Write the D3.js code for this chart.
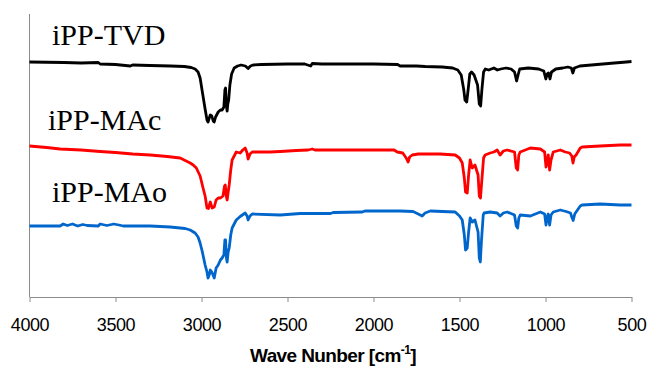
<!DOCTYPE html>
<html>
<head>
<meta charset="utf-8">
<script src="https://cdn.jsdelivr.net/npm/d3@7"></script>
<style>
  body { margin: 0; background: #fff; }
  svg { display: block; }
</style>
</head>
<body>
<svg id="chart" width="648" height="367"></svg>
<script>
// tick labels of the wave number axis
var xTicks = [4000, 3500, 3000, 2500, 2000, 1500, 1000, 500]

var seriesNames = ["iPP-TVD", "iPP-MAc", "iPP-MAo"]

// [wave number, transmittance (a.u., offset)]
var tvd = [
  [4000,47.0],[3800,46.9],[3700,46.8],[3600,46.9],[3589,46.6],[3500,46.5],[3414,46.2],[3400,46.4],
  [3300,46.3],[3180,46.2],[3100,46.1],[3060,45.9],[3037,45.6],[3020,45.0],[3008,43.8],[2995,41.0],
  [2980,37.8],[2968,35.4],[2962,35.0],[2955,35.8],[2949,36.4],[2940,36.2],[2932,35.2],[2926,35.0],
  [2918,36.0],[2903,37.0],[2890,37.4],[2880,37.4],[2870,38.0],[2864,41.4],[2860,41.8],[2856,38.4],
  [2851,37.2],[2847,38.6],[2842,39.4],[2835,42.4],[2825,44.6],[2810,45.8],[2790,46.2],[2770,46.4],
  [2745,46.2],[2729,45.7],[2715,46.2],[2700,46.4],[2650,46.5],[2500,46.6],[2400,46.6],[2365,46.2],
  [2356,46.7],[2300,46.6],[2000,46.6],[1860,46.5],[1845,46.2],[1750,46.2],[1700,46.1],[1600,46.0],
  [1540,45.8],[1510,45.4],[1490,44.4],[1475,41.4],[1468,39.4],[1458,39.0],[1450,41.4],[1440,44.6],
  [1430,45.0],[1415,44.4],[1395,42.4],[1385,38.6],[1377,38.2],[1370,41.4],[1360,45.0],[1350,45.6],
  [1330,45.4],[1300,45.8],[1280,45.4],[1260,45.6],[1230,45.8],[1200,45.6],[1180,45.0],[1168,43.2],
  [1158,44.6],[1150,45.6],[1100,45.8],[1040,45.6],[1010,45.2],[998,43.6],[990,44.6],[982,44.8],
  [974,43.6],[965,45.0],[940,45.6],[900,45.8],[870,46.0],[850,45.8],[841,44.8],[832,45.8],
  [800,46.2],[700,46.5],[600,46.8],[530,47.0],[500,47.1]
]

var mac = [
  [4000,30.2],[3900,29.9],[3822,29.6],[3700,29.4],[3589,29.1],[3500,28.9],[3400,28.6],[3298,28.4],
  [3200,28.1],[3124,27.8],[3066,26.8],[3048,26.4],[3030,25.8],[3008,24.2],[2991,21.8],[2979,20.2],
  [2968,17.8],[2960,17.7],[2949,19.0],[2938,17.8],[2926,18.0],[2915,19.4],[2903,19.8],[2890,19.8],
  [2875,20.2],[2866,22.2],[2862,22.4],[2856,20.2],[2851,19.4],[2845,21.0],[2839,22.4],[2830,25.4],
  [2822,27.4],[2798,29.0],[2775,28.8],[2760,29.4],[2746,29.8],[2735,28.8],[2729,27.6],[2718,28.6],
  [2705,29.0],[2600,29.0],[2542,29.1],[2450,29.3],[2380,29.4],[2356,29.6],[2340,29.4],[2000,29.4],
  [1880,29.4],[1862,29.0],[1830,28.8],[1810,27.8],[1799,27.0],[1790,28.0],[1775,28.4],[1740,28.6],
  [1612,28.6],[1525,28.4],[1500,27.8],[1484,26.8],[1472,23.8],[1465,21.0],[1455,20.8],[1447,24.4],
  [1438,27.4],[1426,25.8],[1410,26.4],[1392,24.4],[1385,20.2],[1378,19.8],[1370,23.4],[1360,27.8],
  [1351,28.4],[1322,28.8],[1300,29.0],[1281,29.4],[1264,28.4],[1245,29.2],[1223,29.4],[1180,29.0],
  [1170,25.8],[1162,25.4],[1155,28.4],[1147,29.0],[1088,29.8],[1030,29.6],[1005,29.0],[997,26.0],
  [991,27.0],[984,28.4],[976,25.4],[968,27.4],[955,29.0],[914,29.4],[885,29.0],[860,28.8],
  [847,28.2],[840,26.8],[833,28.0],[822,28.4],[798,29.8],[787,30.0],[682,30.2],[566,30.4],[500,30.4]
]

var mao = [
  [4000,14.2],[3822,14.2],[3804,14.6],[3780,14.3],[3750,14.6],[3720,14.2],[3690,14.5],[3664,14.3],
  [3600,14.2],[3589,14.6],[3550,14.3],[3510,14.6],[3480,14.4],[3455,14.2],[3298,14.2],[3182,14.0],
  [3095,13.7],[3066,13.4],[3037,12.8],[3020,12.0],[3008,10.8],[2995,9.0],[2979,6.4],[2968,5.0],
  [2962,3.8],[2955,4.4],[2949,5.4],[2940,5.0],[2926,3.8],[2915,5.8],[2903,6.4],[2890,7.4],
  [2880,7.8],[2870,8.4],[2864,11.4],[2860,11.4],[2855,7.8],[2851,7.0],[2845,9.0],[2839,9.8],
  [2830,12.4],[2822,13.8],[2798,15.4],[2775,16.1],[2746,16.8],[2735,16.2],[2729,15.4],[2718,16.2],
  [2705,16.6],[2542,16.4],[2426,16.7],[2250,16.7],[2235,16.9],[2065,17.0],[2050,17.2],[1845,17.2],
  [1770,17.1],[1740,16.6],[1717,16.2],[1700,16.8],[1670,17.2],[1525,17.0],[1500,16.2],[1484,15.4],
  [1472,12.4],[1465,9.4],[1455,9.8],[1447,13.0],[1438,15.8],[1426,15.0],[1410,15.4],[1392,13.0],
  [1385,7.8],[1379,7.0],[1372,11.4],[1362,16.4],[1357,16.8],[1322,17.0],[1281,16.8],[1264,16.2],
  [1245,16.8],[1223,17.0],[1180,16.4],[1170,14.2],[1162,13.8],[1155,15.8],[1147,16.4],[1088,16.2],
  [1030,17.0],[1005,16.6],[997,14.4],[991,15.8],[984,16.6],[976,14.4],[968,16.4],[955,17.0],
  [914,17.4],[880,17.1],[855,16.8],[845,15.8],[839,15.3],[830,16.6],[822,17.0],[798,18.2],
  [787,18.4],[682,18.6],[566,18.4],[500,18.4]
]

var allSeries = [tvd, mac, mao]
var colors = ["#000000", "#ff0000", "#0066cc"]

var svg = d3.select("#chart")

const plotLeft = 29.5, plotRight = 631.5, plotTop = 14, plotBottom = 297

var x = d3.scaleLinear().domain([4000, 500]).range([plotLeft, plotRight])
var y = d3.scaleLinear().domain([0, 56.6]).range([plotBottom, plotTop])

// left axis line (no ticks)
svg.append("line")
    .attr("x1", plotLeft).attr("x2", plotLeft)
    .attr("y1", plotTop).attr("y2", plotBottom)
    .attr("stroke", "#8c8c8c")
    .attr("stroke-width", 1)

// bottom axis
var xAxis = svg.append("g")
    .attr("transform", `translate(0, ${plotBottom})`)
    .call(d3.axisBottom(x).tickValues(xTicks).tickFormat(d3.format("d"))
        .tickSize(5).tickPadding(16).tickSizeOuter(0))

xAxis.select(".domain").attr("stroke", "#8c8c8c")
xAxis.selectAll(".tick line").attr("stroke", "#8c8c8c")
xAxis.selectAll(".tick text")
    .attr("fill", "#000")
    .style("font-family", "'Liberation Sans', Arial, sans-serif")
    .style("font-size", "18px")
    .style("letter-spacing", "-0.4px")

var line = d3.line()
    .x(d => x(d[0]))
    .y(d => y(d[1]))

svg.selectAll(".spectrum")
    .data(allSeries)
    .enter()
    .append("path")
    .attr("class", "spectrum")
    .attr("d", line)
    .attr("fill", "none")
    .attr("stroke", (d, i) => colors[i])
    .attr("stroke-width", 2.8)
    .attr("stroke-linejoin", "round")

// series labels
var labelPos = [[52, 45], [48, 130], [52, 202]]
svg.selectAll(".label")
    .data(seriesNames)
    .enter()
    .append("text")
    .attr("class", "label")
    .attr("x", (d, i) => labelPos[i][0])
    .attr("y", (d, i) => labelPos[i][1])
    .style("font-family", "'Liberation Serif', 'Times New Roman', serif")
    .style("font-size", "30px")
    .text(d => d)

// axis title
var title = svg.append("text")
    .attr("x", 333)
    .attr("y", 362)
    .attr("text-anchor", "middle")
    .style("font-family", "'Liberation Sans', Arial, sans-serif")
    .style("font-size", "19px")
    .style("font-weight", "bold")
    .style("letter-spacing", "-0.6px")

title.append("tspan").text("Wave Nunber [cm")
title.append("tspan").attr("dy", -8).style("font-size", "12px").text("-1")
title.append("tspan").attr("dy", 8).text("]")
</script>
</body>
</html>
